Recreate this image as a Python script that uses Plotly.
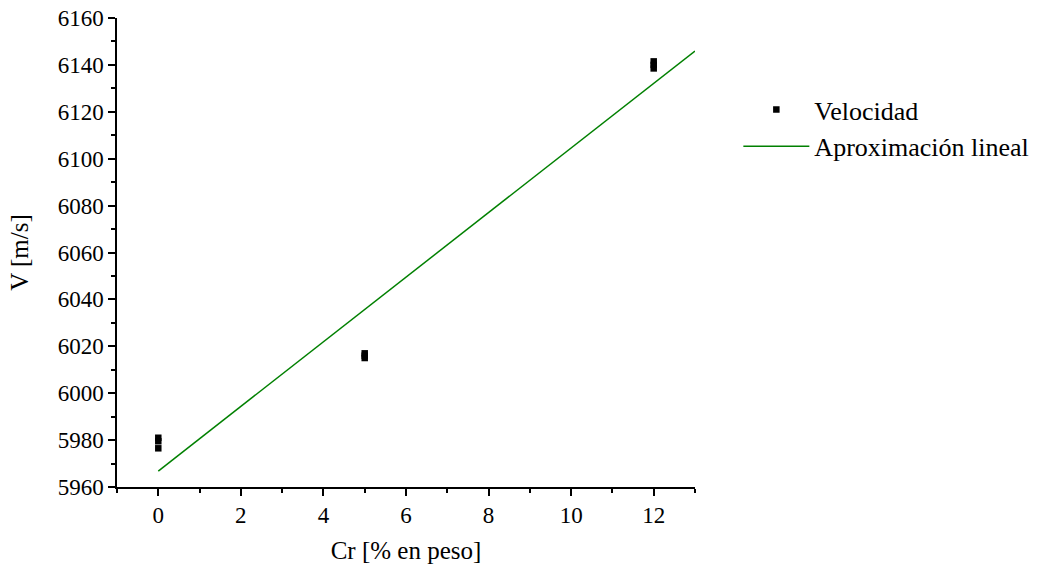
import plotly.graph_objects as go

cr_vals = [0, 0, 0, 5, 5, 5, 12, 12, 12]
vel_vals = [5981, 5979.5, 5976.5, 6017, 6016, 6015, 6141.5, 6140, 6138.5]
fit_x = [0, 13]
fit_intercept = 5966.8
fit_slope = 13.78
fit_y = [fit_intercept + fit_slope * x for x in fit_x]

font_family = "Liberation Serif"

fig = go.Figure()
fig.add_trace(go.Scatter(
    x=cr_vals, y=vel_vals, mode="markers", name="Velocidad",
    marker=dict(symbol="square", size=6.5, color="black"),
))
fig.add_trace(go.Scatter(
    x=fit_x, y=fit_y, mode="lines", name="Aproximación lineal",
    line=dict(color="#008000", width=1.5),
))

axis_common = dict(
    showline=True, linecolor="black", linewidth=1.5, mirror=False,
    ticks="outside", ticklen=7, tickwidth=1.5, tickcolor="black",
    showgrid=False, zeroline=False, automargin=False,
    tickfont=dict(family=font_family, size=23, color="black"),
)

fig.update_layout(
    width=1050, height=573,
    margin=dict(l=117, r=355, t=18, b=86),
    paper_bgcolor="white", plot_bgcolor="white",
    font=dict(family=font_family, color="black"),
    showlegend=True,
    legend=dict(
        x=1.075, y=0.855, xanchor="left", yanchor="top",
        font=dict(family=font_family, size=26, color="black"),
        bgcolor="rgba(0,0,0,0)", itemwidth=66, tracegroupgap=0,
    ),
    xaxis=dict(
        range=[-1, 13], tick0=0, dtick=2,
        minor=dict(ticks="outside", dtick=1, ticklen=4, tickwidth=1.5, tickcolor="black"),
        title=dict(text="Cr [% en peso]", font=dict(family=font_family, size=25), standoff=14),
        **axis_common,
    ),
    yaxis=dict(
        range=[5960, 6160], tick0=5960, dtick=20,
        minor=dict(ticks="outside", dtick=10, ticklen=4, tickwidth=1.5, tickcolor="black"),
        title=dict(text="V [m/s]", font=dict(family=font_family, size=25), standoff=22),
        **axis_common,
    ),
)

fig.write_html("out.html")
